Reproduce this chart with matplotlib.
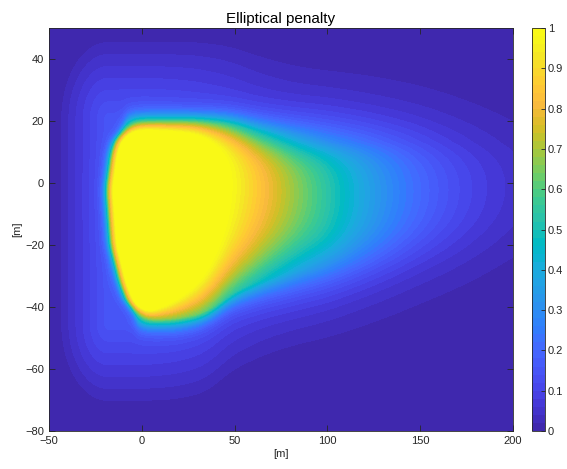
import numpy as np
import matplotlib
matplotlib.use('Agg')
import matplotlib.pyplot as plt
from matplotlib.colors import LinearSegmentedColormap

plt.rcParams['font.family'] = ['Liberation Sans', 'DejaVu Sans']

# parula colour map (sampled)
parula_rgb = [
    (0.2422, 0.1504, 0.6603), (0.2578, 0.1818, 0.7511), (0.2706, 0.2147, 0.8364),
    (0.2783, 0.2559, 0.8991), (0.2813, 0.3006, 0.9414), (0.2795, 0.3447, 0.9717),
    (0.2699, 0.3892, 0.9906), (0.2440, 0.4358, 0.9988), (0.1963, 0.4847, 0.9892),
    (0.1786, 0.5289, 0.9682), (0.1687, 0.5703, 0.9359), (0.1460, 0.6091, 0.9079),
    (0.1248, 0.6459, 0.8883), (0.0952, 0.6798, 0.8598), (0.0297, 0.7082, 0.8163),
    (0.0067, 0.7312, 0.7660), (0.0964, 0.7500, 0.7120), (0.1717, 0.7670, 0.6554),
    (0.2161, 0.7843, 0.5923), (0.2906, 0.7973, 0.5188), (0.3909, 0.8029, 0.4354),
    (0.5044, 0.7993, 0.3480), (0.6174, 0.7876, 0.2612), (0.7242, 0.7698, 0.1910),
    (0.8203, 0.7498, 0.1535), (0.9035, 0.7330, 0.1774), (0.9728, 0.7298, 0.2394),
    (0.9970, 0.7659, 0.2199), (0.9892, 0.8136, 0.1885), (0.9676, 0.8639, 0.1643),
    (0.9597, 0.9135, 0.1423), (0.9691, 0.9606, 0.1064), (0.9769, 0.9839, 0.0805),
]
parula = LinearSegmentedColormap.from_list('parula', parula_rgb)

# grid [m]
x = np.arange(-50, 200.5, 0.5)
y = np.arange(-80, 50.25, 0.5)

# upper boundary: half level, inner and outer softness along x
top_x = [-50, 0, 30, 47, 65, 83, 100, 150, 200]
top_mid = [19.2, 19.2, 19.6, 18.8, 16.0, 14.0, 13.0, 13.5, 13]
top_in = [1.9, 1.9, 2.3, 3.5, 4.0, 4.0, 3.5, 4.5, 5]
top_out = [1.8, 1.8, 1.8, 2.2, 3, 4, 5, 6, 7]

# lower boundary
bot_x = [-50, 0, 20, 36, 47, 65, 83, 100, 150, 200]
bot_mid = [-44.0, -44.0, -43.6, -41.5, -35.5, -31, -28, -26.5, -21, -17]
bot_in = [1.5, 1.5, 4.5, 6.5, 7.5, 7.5, 6.5, 5, 5.5, 6]
bot_out = [1.8, 1.8, 2, 2, 2.5, 3.5, 4.5, 5, 6, 7]

# rear boundary: half level along y
rear_y = [-60, -42, -39, -32, -20, -2, 10, 15, 18, 30]
rear_mid = [-1.5, -1.5, -6.5, -11, -16, -18.2, -15.5, -12.5, -7.5, -7.5]
rear_in, rear_out = 2.6, 1.5

# decay ahead of the reference point
x_c, sig_x, peak = -10, 120, 1.26
halo_h, halo_w, halo_rear = 0.12, 29, -18


def smooth(v, n):
    k = np.ones(n) / n
    p = np.pad(v, n, mode='edge')
    return np.convolve(p, k, mode='same')[n:-n]


def step(d, w_in, w_out):
    # logistic edge, d > 0 inside
    w = np.where(d > 0, w_in, w_out)
    return 1 / (1 + np.exp(-d / w))


def along_x(xs, vs):
    return smooth(np.interp(x, xs, vs), 31)[None, :]


yt, ti, to = along_x(top_x, top_mid), along_x(top_x, top_in), along_x(top_x, top_out)
yb, bi, bo = along_x(bot_x, bot_mid), along_x(bot_x, bot_in), along_x(bot_x, bot_out)
xr = smooth(np.interp(y, rear_y, rear_mid), 11)[:, None]

X, Y = np.meshgrid(x, y)
hard = step(yt - Y, ti, to) * step(Y - yb, bi, bo) * step(X - xr, rear_in, rear_out)

# faint outer glow, rounded at the corners
out_d = np.sqrt(np.maximum(Y - yt - 1, 0) ** 2
                + np.maximum(yb - 1 - Y, 0) ** 2
                + np.maximum(halo_rear - X, 0) ** 2)
soft = np.clip(1 - out_d / halo_w, 0, 1)
lateral = (1 - halo_h) * hard + halo_h * soft

g = np.exp(-(np.maximum(X - x_c, 0) / sig_x) ** 2)
Z = np.clip(peak * g * lateral, 0, 1)

fig = plt.figure(figsize=(5.67, 4.69), dpi=100)
ax = fig.add_axes([0.0864, 0.081, 0.818, 0.859])
cs = ax.contourf(X, Y, Z, levels=np.linspace(0, 1, 51), cmap=parula)
ax.set_xlim(-50, 200)
ax.set_ylim(-80, 50)
ax.set_xticks([-50, 0, 50, 100, 150, 200])
ax.set_yticks([-80, -60, -40, -20, 0, 20, 40])
ax.tick_params(direction='in', top=True, right=True, length=4, width=0.6,
               labelsize=8, colors='#262626')
for s in ax.spines.values():
    s.set_color('#262626')
    s.set_linewidth(0.6)
ax.set_title('Elliptical penalty', fontsize=11, color='#000000', pad=4)
ax.set_xlabel('[m]', fontsize=8, color='#262626', labelpad=2)
ax.set_ylabel('[m]', fontsize=8, color='#262626', labelpad=2)

cax = fig.add_axes([0.938, 0.081, 0.023, 0.859])
cb = fig.colorbar(cs, cax=cax, ticks=np.linspace(0, 1, 11))
cb.ax.set_yticklabels(['0', '0.1', '0.2', '0.3', '0.4', '0.5', '0.6', '0.7', '0.8', '0.9', '1'])
cb.ax.tick_params(direction='in', length=3, width=0.6, labelsize=8, colors='#262626', pad=2)
cb.outline.set_edgecolor('#262626')
cb.outline.set_linewidth(0.6)

fig.savefig('out.png', dpi=100)
